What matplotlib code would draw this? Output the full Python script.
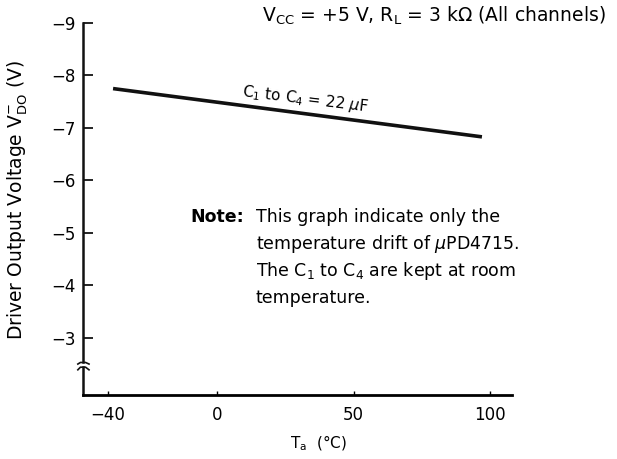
import matplotlib
matplotlib.use("Agg")
import matplotlib.pyplot as plt

plt.rcParams['font.family'] = ['DejaVu Sans']
plt.rcParams['mathtext.fontset'] = 'dejavusans'

# data
temps = [-38, 97]
vdo = [-7.75, -6.83]
xticks = [-40, 0, 50, 100]
xticklabels = ['\u221240', '0', '50', '100']
yticks = [-9, -8, -7, -6, -5, -4, -3]
yticklabels = ['\u22129', '\u22128', '\u22127', '\u22126', '\u22125', '\u22124', '\u22123']

W, H = 617, 459
fig = plt.figure(figsize=(W / 100, H / 100), dpi=100)
L, R, B, T = 83, 512, 395, 23
ax = fig.add_axes([L / W, 1 - B / H, (R - L) / W, (B - T) / H])

ax.plot(temps, vdo, color='#111111', lw=2.6, solid_capstyle='butt')

ax.set_xlim(-49, 108)
ax.set_ylim(-1.91, -9.0)

ax.set_xticks(xticks)
ax.set_xticklabels(xticklabels, fontsize=12)
ax.set_yticks(yticks)
ax.set_yticklabels(yticklabels, fontsize=12)
ax.tick_params(axis='y', direction='in', length=7, width=1.2, pad=5)
ax.tick_params(axis='x', direction='in', length=3, width=1.0, pad=8)

for s in ['top', 'right', 'left']:
    ax.spines[s].set_visible(False)
ax.spines['bottom'].set_linewidth(2.0)

# broken left axis
ytr = ax.get_yaxis_transform()
ax.plot([0, 0], [-9.0, -2.53], color='#111111', lw=1.8, transform=ytr, clip_on=False)
ax.plot([0, 0], [-2.44, -1.91], color='#111111', lw=1.8, transform=ytr, clip_on=False)
ax.plot([-0.012, -0.006, 0.006, 0.014], [-2.50, -2.53, -2.53, -2.50],
        color='#111111', lw=1.2, transform=ytr, clip_on=False)
ax.plot([-0.012, -0.006, 0.006, 0.014], [-2.39, -2.44, -2.44, -2.39],
        color='#111111', lw=1.2, transform=ytr, clip_on=False)

ax.set_ylabel(r'Driver Output Voltage $\mathrm{V}_{\mathrm{DO}}^{-}$ (V)', fontsize=13.5)
ax.yaxis.set_label_coords(-0.124, 0.524)
ax.set_xlabel('T$_\\mathrm{a}$  (\u00b0C)', fontsize=11)
ax.xaxis.set_label_coords(0.55, -0.105)

# annotations
fig.text(262 / W, 1 - 22 / H, r'V$_\mathrm{CC}$ = +5 V, R$_\mathrm{L}$ = 3 k$\Omega$ (All channels)',
         fontsize=13.5, ha='left', va='baseline')
ax.text(32, -7.36, r'C$_\mathrm{1}$ to C$_\mathrm{4}$ = 22 $\mu$F', fontsize=11,
        rotation=-7, ha='center', va='bottom', rotation_mode='anchor')

fig.text(190 / W, 1 - 222 / H, 'Note:', fontsize=12.5, fontweight='bold', ha='left', va='baseline')
note_lines = ['This graph indicate only the',
              r'temperature drift of $\mu$PD4715.',
              r'The C$_\mathrm{1}$ to C$_\mathrm{4}$ are kept at room',
              'temperature.']
for i, line in enumerate(note_lines):
    fig.text(256 / W, 1 - (222 + 27 * i) / H, line, fontsize=12.5, ha='left', va='baseline')

fig.savefig('out.png', dpi=100)
